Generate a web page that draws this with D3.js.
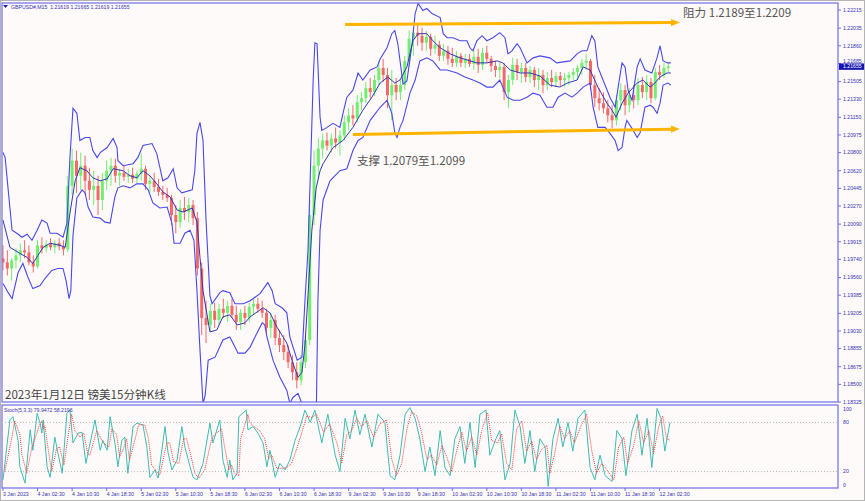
<!DOCTYPE html>
<html><head><meta charset="utf-8">
<script src="https://cdn.jsdelivr.net/npm/d3@7"></script>
<style>html,body{margin:0;padding:0;background:#fffafa;}svg{display:block;}</style>
</head><body><svg id="c" width="865" height="501"></svg>
<script>
// ---------------- DATA ----------------
const symbolTitle = "GBPUSD#,M15  1.21619 1.21665 1.21619 1.21655";
const stochTitle = "Stoch(5,3,3) 79.9472 58.2196";
const lastPrice = 1.21655;
const timeLabels = ["3 Jan 2023","4 Jan 02:30","4 Jan 10:30","4 Jan 18:30","5 Jan 02:30","5 Jan 10:30","5 Jan 18:30","6 Jan 02:30","6 Jan 10:30","6 Jan 18:30","9 Jan 02:30","9 Jan 10:30","9 Jan 18:30","10 Jan 02:30","10 Jan 10:30","10 Jan 18:30","11 Jan 02:30","11 Jan 10:30","11 Jan 18:30","12 Jan 02:30"];
const hoursPerLabel = 8;
const priceTicks = [1.22215,1.22035,1.21860,1.21685,1.21505,1.21330,1.21150,1.20975,1.20800,1.20620,1.20445,1.20270,1.20090,1.19915,1.19740,1.19560,1.19385,1.19205,1.19030,1.18855,1.18675,1.18500,1.18325];
const stochTicks = [100,80,20,0];
const stochLevels = [80,20];

// hourly candles (bar index = hours since 3 Jan 18:30, trading hours)
const opens = [1.1975,1.1971,1.1965,1.1973,1.1978,1.1983,1.1981,1.1971,1.1967,1.1988,1.1985,1.1989,1.1986,1.1990,1.1987,1.1984,1.2047,1.2072,1.2057,1.2067,1.2052,1.2043,1.2047,1.2033,1.2052,1.2062,1.2067,1.2057,1.2060,1.2056,1.2058,1.2054,1.2059,1.2064,1.2049,1.2052,1.2046,1.2041,1.2038,1.2035,1.2018,1.2011,1.2025,1.2021,1.2028,1.2015,1.1965,1.1916,1.1909,1.1923,1.1914,1.1925,1.1921,1.1928,1.1919,1.1912,1.1921,1.1916,1.1927,1.1930,1.1925,1.1921,1.1906,1.1914,1.1896,1.1889,1.1882,1.1872,1.1862,1.1854,1.1872,1.1894,1.2018,1.2067,1.2084,1.2092,1.2087,1.2094,1.2090,1.2097,1.2110,1.2117,1.2114,1.2130,1.2134,1.2144,1.2140,1.2152,1.2164,1.2157,1.2137,1.2147,1.2140,1.2147,1.2171,1.2193,1.2199,1.2196,1.2189,1.2195,1.2183,1.2187,1.2176,1.2181,1.2173,1.2169,1.2176,1.2169,1.2173,1.2168,1.2175,1.2167,1.2179,1.2173,1.2166,1.2162,1.2165,1.2140,1.2152,1.2167,1.2160,1.2164,1.2155,1.2162,1.2152,1.2157,1.2147,1.2154,1.2150,1.2156,1.2152,1.2154,1.2157,1.2160,1.2164,1.2169,1.2171,1.2147,1.2134,1.2129,1.2124,1.2117,1.2112,1.2132,1.2142,1.2127,1.2137,1.2132,1.2147,1.2140,1.2150,1.2134,1.2160,1.2157,1.2164];
const highs = [1.1988,1.1983,1.1975,1.1985,1.1990,1.1993,1.1988,1.1978,1.1993,1.1996,1.1993,1.1995,1.1993,1.1995,1.1993,1.2057,1.2084,1.2082,1.2080,1.2077,1.2065,1.2062,1.2057,1.2060,1.2072,1.2075,1.2074,1.2064,1.2067,1.2064,1.2065,1.2062,1.2079,1.2067,1.2057,1.2060,1.2054,1.2047,1.2045,1.2038,1.2028,1.2033,1.2036,1.2035,1.2033,1.2021,1.1971,1.1933,1.1930,1.1931,1.1930,1.1935,1.1933,1.1935,1.1928,1.1925,1.1928,1.1931,1.1935,1.1936,1.1933,1.1925,1.1921,1.1919,1.1904,1.1899,1.1889,1.1879,1.1872,1.1879,1.1899,1.2033,1.2082,1.2094,1.2099,1.2100,1.2099,1.2105,1.2102,1.2117,1.2124,1.2127,1.2137,1.2140,1.2150,1.2154,1.2157,1.2171,1.2173,1.2164,1.2162,1.2154,1.2152,1.2176,1.2201,1.2204,1.2208,1.2204,1.2201,1.2198,1.2196,1.2191,1.2188,1.2186,1.2184,1.2181,1.2179,1.2178,1.2178,1.2181,1.2183,1.2184,1.2186,1.2176,1.2171,1.2169,1.2169,1.2157,1.2174,1.2173,1.2169,1.2169,1.2166,1.2165,1.2164,1.2162,1.2160,1.2162,1.2160,1.2160,1.2159,1.2160,1.2164,1.2167,1.2173,1.2178,1.2173,1.2157,1.2144,1.2140,1.2132,1.2127,1.2137,1.2149,1.2147,1.2144,1.2147,1.2154,1.2155,1.2157,1.2154,1.2164,1.2167,1.2169,1.2169];
const lows = [1.1963,1.1958,1.1953,1.1965,1.1971,1.1975,1.1968,1.1961,1.1965,1.1980,1.1981,1.1983,1.1980,1.1983,1.1978,1.1981,1.2038,1.2040,1.2043,1.2038,1.2033,1.2028,1.2018,1.2023,1.2043,1.2047,1.2050,1.2047,1.2052,1.2050,1.2050,1.2049,1.2052,1.2043,1.2040,1.2041,1.2037,1.2033,1.2031,1.2008,1.2000,1.2005,1.2013,1.2011,1.2008,1.1958,1.1899,1.1891,1.1902,1.1906,1.1909,1.1916,1.1912,1.1916,1.1904,1.1904,1.1909,1.1912,1.1919,1.1921,1.1916,1.1899,1.1896,1.1889,1.1882,1.1874,1.1866,1.1854,1.1846,1.1849,1.1866,1.1889,1.2008,1.2054,1.2074,1.2082,1.2080,1.2084,1.2077,1.2092,1.2102,1.2107,1.2110,1.2122,1.2129,1.2134,1.2136,1.2147,1.2150,1.2124,1.2112,1.2132,1.2132,1.2142,1.2165,1.2176,1.2186,1.2181,1.2181,1.2176,1.2178,1.2171,1.2171,1.2167,1.2165,1.2165,1.2165,1.2164,1.2165,1.2162,1.2159,1.2162,1.2169,1.2160,1.2155,1.2154,1.2132,1.2124,1.2147,1.2152,1.2149,1.2150,1.2149,1.2145,1.2142,1.2139,1.2142,1.2145,1.2145,1.2146,1.2145,1.2147,1.2152,1.2152,1.2157,1.2162,1.2142,1.2125,1.2122,1.2119,1.2110,1.2104,1.2107,1.2122,1.2117,1.2120,1.2124,1.2127,1.2134,1.2132,1.2129,1.2132,1.2152,1.2154,1.2160];
const closes = [1.1971,1.1965,1.1973,1.1978,1.1983,1.1981,1.1971,1.1967,1.1988,1.1985,1.1989,1.1986,1.1990,1.1987,1.1984,1.2047,1.2072,1.2057,1.2067,1.2052,1.2043,1.2047,1.2033,1.2052,1.2062,1.2067,1.2057,1.2060,1.2056,1.2058,1.2054,1.2059,1.2064,1.2049,1.2052,1.2046,1.2041,1.2038,1.2035,1.2018,1.2011,1.2025,1.2021,1.2028,1.2015,1.1965,1.1916,1.1909,1.1923,1.1914,1.1925,1.1921,1.1928,1.1919,1.1912,1.1921,1.1916,1.1927,1.1930,1.1925,1.1921,1.1906,1.1914,1.1896,1.1889,1.1882,1.1872,1.1862,1.1854,1.1872,1.1894,1.2018,1.2067,1.2084,1.2092,1.2087,1.2094,1.2090,1.2097,1.2110,1.2117,1.2114,1.2130,1.2134,1.2144,1.2140,1.2152,1.2164,1.2157,1.2137,1.2147,1.2140,1.2147,1.2171,1.2193,1.2199,1.2196,1.2189,1.2195,1.2183,1.2187,1.2176,1.2181,1.2173,1.2169,1.2176,1.2169,1.2173,1.2168,1.2175,1.2167,1.2179,1.2173,1.2166,1.2162,1.2165,1.2140,1.2152,1.2167,1.2160,1.2164,1.2155,1.2162,1.2152,1.2157,1.2147,1.2154,1.2150,1.2156,1.2152,1.2154,1.2157,1.2160,1.2164,1.2169,1.2171,1.2147,1.2134,1.2129,1.2124,1.2117,1.2112,1.2132,1.2142,1.2127,1.2137,1.2132,1.2147,1.2140,1.2150,1.2134,1.2160,1.2157,1.2164,1.21655];

// Bollinger bands read as [hour index, price]
const bandUpper = [[0,1.2080],[0.5,1.2075],[1.2,1.2043],[2.1,1.2003],[3.2,1.2000],[4.4,1.1996],[5.6,1.1999],[6.7,1.1993],[7.9,1.2003],[9.0,1.2013],[10.2,1.2010],[10.9,1.2000],[12.5,1.2000],[13.9,1.1996],[14.8,1.2010],[15.5,1.2075],[16.2,1.2124],[17.1,1.2119],[17.8,1.2092],[19.0,1.2095],[20.1,1.2095],[20.8,1.2082],[21.8,1.2075],[22.5,1.2080],[24.1,1.2085],[25.5,1.2094],[26.4,1.2085],[26.6,1.2072],[27.8,1.2067],[30.1,1.2069],[31.2,1.2075],[32.4,1.2087],[34.5,1.2089],[35.6,1.2079],[37.0,1.2052],[38.2,1.2055],[39.4,1.2064],[40.3,1.2045],[41.4,1.2040],[43.8,1.2043],[44.4,1.2062],[44.9,1.2099],[45.6,1.2110],[46.3,1.2092],[47.0,1.2013],[47.9,1.1938],[48.4,1.1930],[50.2,1.1941],[50.9,1.1943],[52.5,1.1941],[53.7,1.1930],[55.6,1.1930],[57.2,1.1933],[59.5,1.1940],[61.3,1.1951],[62.3,1.1943],[63.0,1.1930],[64.6,1.1926],[65.7,1.1921],[66.4,1.1897],[68.1,1.1874],[69.2,1.1877],[69.9,1.1933],[70.6,1.1983],[71.1,1.2052],[71.8,1.2152],[72.2,1.2189],[72.7,1.2188],[73.4,1.2115],[73.8,1.2102],[75.0,1.2105],[76.4,1.2109],[78.0,1.2105],[78.7,1.2119],[79.6,1.2135],[81.0,1.2142],[82.2,1.2159],[83.3,1.2152],[85.0,1.2162],[86.6,1.2165],[87.3,1.2173],[88.9,1.2184],[90.0,1.2198],[90.7,1.2201],[91.4,1.2188],[92.6,1.2148],[93.5,1.2151],[94.7,1.2188],[95.4,1.2218],[96.1,1.2228],[97.2,1.2221],[98.1,1.2223],[99.3,1.2218],[101.2,1.2214],[101.9,1.2198],[102.8,1.2194],[104.2,1.2194],[105.8,1.2191],[107.4,1.2191],[108.1,1.2184],[108.8,1.2181],[109.7,1.2191],[110.9,1.2196],[112.0,1.2191],[113.4,1.2194],[115.0,1.2199],[116.2,1.2194],[116.9,1.2178],[117.8,1.2181],[119.0,1.2188],[119.7,1.2184],[121.3,1.2169],[122.7,1.2174],[124.3,1.2176],[126.6,1.2174],[128.2,1.2169],[131.3,1.2171],[132.9,1.2178],[134.0,1.2181],[135.2,1.2181],[136.3,1.2196],[137.0,1.2191],[137.7,1.2165],[138.9,1.2152],[140.5,1.2135],[141.7,1.2125],[142.4,1.2145],[143.3,1.2169],[144.0,1.2165],[144.7,1.2142],[145.6,1.2132],[146.8,1.2165],[147.5,1.2173],[148.6,1.2162],[150.2,1.2159],[151.4,1.2174],[152.1,1.2186],[152.8,1.2171],[153.9,1.2169],[154.6,1.2169]];
const bandMiddle = [[0,1.2013],[1.6,1.1986],[3.9,1.1980],[5.6,1.1976],[6.9,1.1970],[8.1,1.1978],[9.3,1.1986],[10.9,1.1990],[13.2,1.1988],[14.4,1.1986],[15.5,1.2020],[16.7,1.2052],[17.8,1.2065],[19.4,1.2062],[20.8,1.2055],[22.5,1.2052],[24.1,1.2054],[25.5,1.2064],[27.8,1.2062],[29.4,1.2057],[31.0,1.2055],[32.4,1.2062],[34.0,1.2057],[35.6,1.2049],[37.0,1.2041],[38.7,1.2036],[40.3,1.2023],[41.7,1.2021],[43.8,1.2025],[44.9,1.2011],[45.6,1.1976],[46.3,1.1943],[47.9,1.1902],[49.5,1.1904],[50.9,1.1917],[52.5,1.1919],[54.2,1.1909],[56.0,1.1911],[57.2,1.1917],[60.2,1.1926],[61.8,1.1921],[63.4,1.1907],[65.7,1.1891],[67.1,1.1871],[68.3,1.1857],[69.2,1.1862],[69.9,1.1889],[70.6,1.1938],[71.5,1.2003],[72.5,1.2045],[73.4,1.2062],[74.1,1.2069],[76.4,1.2085],[78.7,1.2092],[81.0,1.2105],[83.3,1.2122],[85.4,1.2135],[87.3,1.2149],[89.1,1.2155],[90.7,1.2149],[91.9,1.2152],[93.5,1.2165],[94.9,1.2191],[96.1,1.2198],[98.1,1.2198],[99.5,1.2191],[101.2,1.2184],[103.5,1.2178],[105.8,1.2174],[108.1,1.2171],[109.7,1.2169],[112.0,1.2169],[114.4,1.2171],[115.7,1.2169],[117.4,1.2162],[119.7,1.2159],[122.0,1.2159],[124.3,1.2156],[126.6,1.2147],[128.9,1.2145],[130.6,1.2149],[132.9,1.2152],[134.3,1.2165],[135.9,1.2162],[137.7,1.2145],[139.8,1.2129],[141.0,1.2122],[141.9,1.2115],[143.3,1.2129],[144.7,1.2139],[146.8,1.2149],[148.1,1.2152],[149.8,1.2145],[150.9,1.2149],[152.1,1.2155],[153.7,1.2159],[154.6,1.2159]];
const bandLower = [[0,1.1950],[1.2,1.1941],[2.1,1.1935],[3.5,1.1961],[4.6,1.1970],[5.8,1.1956],[6.9,1.1945],[8.6,1.1948],[9.7,1.1955],[11.3,1.1963],[12.7,1.1965],[13.9,1.1965],[14.6,1.1953],[15.3,1.1935],[15.7,1.1943],[16.2,1.1998],[17.1,1.2035],[18.3,1.2043],[19.0,1.2040],[19.7,1.2026],[20.8,1.2016],[22.5,1.2015],[23.6,1.2011],[24.8,1.2010],[25.9,1.2036],[26.6,1.2045],[27.8,1.2047],[29.4,1.2045],[31.0,1.2049],[32.4,1.2049],[33.6,1.2043],[34.7,1.2030],[36.3,1.2025],[38.0,1.2026],[39.1,1.2010],[39.6,1.1990],[41.0,1.1990],[42.1,1.2000],[43.3,1.2003],[44.2,1.1993],[44.9,1.1943],[45.6,1.1884],[46.3,1.1831],[46.8,1.1839],[47.5,1.1874],[49.1,1.1877],[50.9,1.1894],[52.5,1.1897],[53.7,1.1887],[54.4,1.1881],[56.0,1.1881],[57.2,1.1887],[58.8,1.1901],[60.0,1.1911],[60.6,1.1909],[61.1,1.1897],[62.5,1.1874],[64.1,1.1857],[65.7,1.1844],[66.4,1.1831],[67.1,1.1837],[68.3,1.1841],[69.2,1.1831],[69.9,1.1814],[71.1,1.1802],[72.5,1.1814],[72.9,1.1933],[73.4,1.2003],[74.1,1.2033],[75.7,1.2052],[78.0,1.2062],[79.6,1.2064],[81.0,1.2082],[82.2,1.2092],[83.3,1.2095],[85.0,1.2112],[87.3,1.2125],[88.9,1.2132],[90.0,1.2119],[90.7,1.2100],[91.2,1.2095],[91.9,1.2105],[92.6,1.2112],[94.2,1.2139],[95.4,1.2152],[96.5,1.2171],[98.1,1.2174],[99.5,1.2171],[101.2,1.2162],[102.8,1.2162],[105.1,1.2159],[106.9,1.2155],[108.8,1.2152],[110.4,1.2149],[112.0,1.2145],[113.4,1.2145],[115.0,1.2152],[115.7,1.2145],[116.7,1.2135],[118.1,1.2132],[119.7,1.2132],[121.3,1.2135],[122.7,1.2139],[124.3,1.2137],[125.9,1.2125],[127.3,1.2125],[128.5,1.2135],[130.1,1.2139],[131.7,1.2135],[132.9,1.2139],[134.3,1.2145],[135.9,1.2149],[136.6,1.2125],[137.7,1.2105],[139.4,1.2105],[140.5,1.2099],[141.7,1.2092],[142.4,1.2082],[143.3,1.2085],[144.0,1.2105],[144.4,1.2112],[145.6,1.2104],[146.8,1.2095],[147.5,1.2100],[148.6,1.2125],[149.8,1.2127],[150.5,1.2125],[151.4,1.2119],[152.1,1.2129],[152.8,1.2147],[153.9,1.2149],[154.6,1.2147]];

// Stochastic (5,3,3) read as [hour index, value]
const stochMain = [[0,10],[1.6,83],[2.3,87],[3.5,58],[3.9,26],[5.1,6],[6.3,71],[6.9,46],[7.9,91],[8.6,79],[9.0,67],[9.3,83],[10.2,26],[10.9,13],[12.0,62],[12.7,43],[13.7,18],[14.8,91],[15.5,95],[16.2,55],[17.4,67],[18.3,68],[19.2,30],[19.7,43],[21.3,83],[22.5,46],[23.1,58],[24.1,46],[24.8,87],[25.9,55],[26.6,26],[27.5,58],[28.2,62],[28.9,18],[30.1,75],[31.0,79],[32.4,77],[33.3,50],[34.0,13],[35.2,22],[35.9,12],[37.5,75],[38.2,43],[39.1,22],[40.3,34],[41.4,75],[42.1,50],[43.3,26],[44.0,13],[44.9,10],[46.3,30],[47.9,79],[48.6,55],[50.2,83],[50.9,34],[51.9,13],[52.5,34],[53.2,10],[54.2,18],[54.6,87],[56.3,95],[56.7,71],[57.9,75],[59.0,67],[60.2,55],[61.1,26],[61.8,46],[63.0,13],[64.1,30],[65.3,22],[66.4,34],[67.6,58],[68.8,75],[69.9,95],[71.1,80],[72.2,95],[73.8,55],[75.2,90],[76.9,40],[78.0,20],[79.2,85],[80.3,60],[81.5,95],[82.6,65],[83.8,90],[85.4,50],[86.8,90],[88.4,80],[89.6,15],[90.7,10],[91.9,40],[93.1,90],[94.2,98],[95.4,85],[96.5,60],[97.7,20],[98.8,50],[100.0,15],[101.2,70],[102.3,25],[103.5,15],[104.6,60],[105.8,75],[106.9,30],[108.1,80],[109.3,25],[110.4,90],[111.8,95],[112.7,40],[114.1,60],[115.0,70],[116.2,10],[117.4,30],[118.5,95],[119.7,75],[120.8,30],[122.0,70],[123.1,20],[124.3,60],[125.5,50],[126.2,2],[127.3,60],[128.5,85],[129.6,50],[130.8,80],[131.9,45],[133.1,85],[134.7,95],[135.9,25],[137.0,10],[138.2,40],[139.4,15],[141.0,8],[142.1,70],[143.3,60],[144.2,15],[145.6,70],[146.8,90],[147.9,40],[149.1,85],[150.2,25],[151.4,97],[152.3,85],[153.2,45],[154.4,79.95]];
const stochSignal = [[0.4,20],[2.0,60],[2.7,82],[3.9,65],[4.4,40],[5.5,18],[6.7,50],[7.3,58],[8.3,75],[9.0,82],[9.4,72],[9.7,76],[10.6,42],[11.3,20],[12.4,48],[13.1,50],[14.1,28],[15.2,68],[15.9,90],[16.6,70],[17.8,62],[18.7,67],[19.6,42],[20.1,40],[21.7,70],[22.9,58],[23.5,54],[24.5,50],[25.2,72],[26.3,65],[27.0,38],[27.9,48],[28.6,60],[29.3,34],[30.5,58],[31.4,77],[32.8,77],[33.7,60],[34.4,28],[35.6,20],[36.3,16],[37.9,55],[38.6,55],[39.5,32],[40.7,30],[41.8,60],[42.5,60],[43.7,35],[44.4,18],[45.3,12],[46.7,22],[48.3,60],[49.0,65],[50.6,72],[51.3,50],[52.3,22],[52.9,28],[53.6,18],[54.6,15],[55.0,60],[56.7,90],[57.1,80],[58.3,74],[59.4,70],[60.6,60],[61.5,36],[62.2,40],[63.4,24],[64.5,24],[65.7,25],[66.8,30],[68.0,48],[69.2,68],[70.3,88],[71.5,86],[72.6,90],[74.2,68],[75.6,78],[77.3,55],[78.4,30],[79.6,65],[80.7,70],[81.9,85],[83.0,75],[84.2,82],[85.8,62],[87.2,78],[88.8,83],[90.0,35],[91.1,15],[92.3,30],[93.5,72],[94.6,93],[95.8,88],[96.9,68],[98.1,35],[99.2,40],[100.4,28],[101.6,52],[102.7,38],[103.9,20],[105.0,45],[106.2,68],[107.3,45],[108.5,62],[109.7,40],[110.8,70],[112.2,92],[113.1,58],[114.5,55],[115.4,66],[116.6,30],[117.8,22],[118.9,72],[120.1,82],[121.2,45],[122.4,57],[123.5,35],[124.7,47],[125.9,52],[126.6,18],[127.7,42],[128.9,75],[130.0,60],[131.2,70],[132.3,55],[133.5,72],[135.1,90],[136.3,45],[137.4,18],[138.6,30],[139.8,22],[141.4,10],[142.5,50],[143.7,62],[144.6,30],[146.0,52],[147.2,82],[148.3,55],[149.5,70],[150.6,42],[151.8,75],[152.7,88],[153.6,60],[154.4,58.22]];

// drawn annotations: [hour index, price]
const resistanceLine = [[79.2,1.22071],[156.7,1.22091]];
const supportLine = [[81.0,1.20980],[156.7,1.21034]];
const resistanceText = "阻力 1.2189至1.2209";
const supportText = "支撑 1.2079至1.2099";
const captionText = "2023年1月12日 镑美15分钟K线";

// ---------------- DRAW ----------------
const svg = d3.select("#c");
const L = 2, R = 838, mainTop = 3, mainBot = 402, subTop = 405, subBot = 488;
const x = d3.scaleLinear().domain([0, 193.06]).range([3, 837]);
const y = d3.scaleLinear().domain([1.18325, 1.22215]).range([402, 10]);
const ys = d3.scaleLinear().domain([0, 100]).range([488, 406]);
const frame = "#6f6fe6", axisText = "#3434b4";

svg.append("rect").attr("width", 865).attr("height", 501).attr("fill", "#fffafa");
svg.append("rect").attr("x", 0.5).attr("y", 0.5).attr("width", 864).attr("height", 500)
  .attr("fill", "none").attr("stroke", "#b4b4b4");

const defs = svg.append("defs");
defs.append("clipPath").attr("id", "cm").append("rect")
  .attr("x", L).attr("y", mainTop).attr("width", R - L).attr("height", mainBot - mainTop);
defs.append("clipPath").attr("id", "cs").append("rect")
  .attr("x", L).attr("y", subTop).attr("width", R - L).attr("height", subBot - subTop);

const gm = svg.append("g").attr("clip-path", "url(#cm)");

// candles
const idx = d3.range(opens.length);
const bull = "#6fee6f", bear = "#f46868";
gm.selectAll("line.w").data(idx).join("line")
  .attr("x1", i => x(i)).attr("x2", i => x(i))
  .attr("y1", i => y(highs[i])).attr("y2", i => y(lows[i]))
  .attr("stroke", i => closes[i] >= opens[i] ? bull : bear).attr("stroke-width", 1);
gm.selectAll("rect.b").data(idx).join("rect")
  .attr("x", i => x(i) - 1.5).attr("width", 3)
  .attr("y", i => y(Math.max(opens[i], closes[i])))
  .attr("height", i => Math.max(1, Math.abs(y(opens[i]) - y(closes[i]))))
  .attr("fill", i => closes[i] >= opens[i] ? bull : bear);

// bands
const bl = d3.line().x(d => x(d[0])).y(d => y(d[1]));
gm.append("path").attr("d", bl(bandUpper)).attr("fill", "none").attr("stroke", "#4848f2").attr("stroke-width", 1.1);
gm.append("path").attr("d", bl(bandLower)).attr("fill", "none").attr("stroke", "#4848f2").attr("stroke-width", 1.1);
gm.append("path").attr("d", bl(bandMiddle)).attr("fill", "none").attr("stroke", "#3434b8").attr("stroke-width", 1);

// annotation arrows
function arrow(pts) {
  const x1 = x(pts[0][0]), y1 = y(pts[0][1]), x2 = x(pts[1][0]), y2 = y(pts[1][1]);
  const a = Math.atan2(y2 - y1, x2 - x1), len = 9, hw = 3.6;
  const bx = x2 - len * Math.cos(a), by = y2 - len * Math.sin(a);
  gm.append("line").attr("x1", x1).attr("y1", y1).attr("x2", bx).attr("y2", by)
    .attr("stroke", "#ffb400").attr("stroke-width", 3);
  gm.append("path").attr("d", `M${x2},${y2}L${bx - hw * Math.sin(a)},${by + hw * Math.cos(a)}L${bx + hw * Math.sin(a)},${by - hw * Math.cos(a)}Z`)
    .attr("fill", "#ffb400");
}
arrow(resistanceLine);
arrow(supportLine);

const cjk = "'Noto Sans CJK SC','Noto Sans',sans-serif";
svg.append("text").attr("x", x(resistanceLine[1][0]) + 3).attr("y", y(resistanceLine[1][1]) - 5)
  .attr("font-family", cjk).attr("font-size", 11.6).attr("fill", "#555").text(resistanceText);
svg.append("text").attr("x", x(supportLine[0][0]) + 4).attr("y", y(supportLine[0][1]) + 31)
  .attr("font-family", cjk).attr("font-size", 11.6).attr("fill", "#555").text(supportText);
svg.append("text").attr("x", 5).attr("y", 399)
  .attr("font-family", cjk).attr("font-size", 11.6).attr("fill", "#444").text(captionText);

// frames
svg.append("rect").attr("x", L).attr("y", mainTop).attr("width", R - L).attr("height", mainBot - mainTop)
  .attr("fill", "none").attr("stroke", frame).attr("stroke-width", 1.2);
svg.append("rect").attr("x", L).attr("y", subTop).attr("width", R - L).attr("height", subBot - subTop)
  .attr("fill", "none").attr("stroke", frame).attr("stroke-width", 1.2);

// title
const small = "'Liberation Sans',Arial,sans-serif";
svg.append("path").attr("d", "M3,5L8,5L5.5,8Z").attr("fill", "#2020a0");
svg.append("text").attr("x", 11).attr("y", 8.5).attr("font-family", small).attr("font-size", 5.2)
  .attr("fill", axisText).attr("xml:space", "preserve").text(symbolTitle);

// price axis
const boxTop = y(lastPrice) - 3, boxH = 6.4;
const pa = svg.append("g");
pa.selectAll("line").data(priceTicks).join("line")
  .attr("x1", R).attr("x2", R + 3).attr("y1", d => y(d)).attr("y2", d => y(d)).attr("stroke", frame);
pa.selectAll("text").data(priceTicks).join("text")
  .attr("x", R + 5)
  .attr("y", d => Math.abs(y(d) - y(lastPrice)) < 7 ? Math.min(y(d) + 1.8, boxTop - 0.3) : y(d) + 1.8)
  .attr("font-family", small).attr("font-size", 5.2)
  .attr("fill", axisText).text(d => d.toFixed(5));
svg.append("rect").attr("x", R + 1).attr("y", boxTop).attr("width", 25).attr("height", boxH).attr("fill", "#1414b4");
svg.append("text").attr("x", R + 5).attr("y", y(lastPrice) + 1.8).attr("font-family", small).attr("font-size", 5.2)
  .attr("fill", "#fff").text(lastPrice.toFixed(5));

// stochastic window
const gs = svg.append("g").attr("clip-path", "url(#cs)");
gs.selectAll("line.lv").data(stochLevels).join("line")
  .attr("x1", L).attr("x2", R).attr("y1", d => ys(d)).attr("y2", d => ys(d))
  .attr("stroke", "#b8b8b8").attr("stroke-dasharray", "1,2");
const sl = d3.line().x(d => x(d[0])).y(d => ys(d[1]));
gs.append("path").attr("d", sl(stochMain)).attr("fill", "none").attr("stroke", "#3ebcb0").attr("stroke-width", 1);
gs.append("path").attr("d", sl(stochSignal)).attr("fill", "none").attr("stroke", "#ff3c3c").attr("stroke-width", 1).attr("stroke-dasharray", "1,1");
svg.append("text").attr("x", 4).attr("y", 411.5).attr("font-family", small).attr("font-size", 5.2)
  .attr("fill", axisText).text(stochTitle);
svg.selectAll("text.st").data(stochTicks).join("text")
  .attr("x", R + 5).attr("y", d => d === 100 ? 411 : d === 0 ? 487 : ys(d) + 1.8)
  .attr("font-family", small).attr("font-size", 5.2).attr("fill", axisText).text(d => d);

// time axis
const ta = svg.append("g");
ta.selectAll("line").data(timeLabels).join("line")
  .attr("x1", (d, k) => x(k * hoursPerLabel)).attr("x2", (d, k) => x(k * hoursPerLabel))
  .attr("y1", subBot).attr("y2", subBot + 3).attr("stroke", frame);
ta.selectAll("text").data(timeLabels).join("text")
  .attr("x", (d, k) => x(k * hoursPerLabel)).attr("y", 496)
  .attr("font-family", small).attr("font-size", 5.2).attr("fill", axisText).text(d => d);
</script></body></html>
